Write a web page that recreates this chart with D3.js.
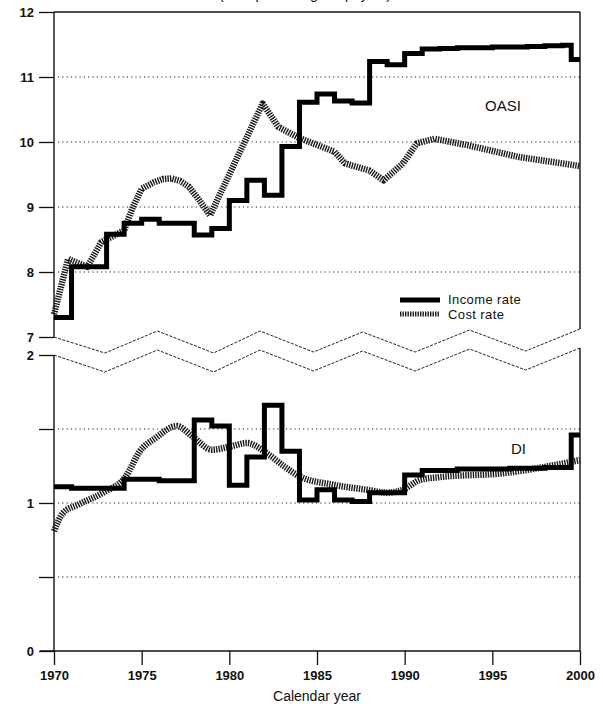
<!DOCTYPE html>
<html>
<head>
<meta charset="utf-8">
<script src="https://cdn.jsdelivr.net/npm/d3@7"></script>
<style>
  body { margin: 0; background: #fff; }
  text { font-family: "Liberation Sans", Arial, sans-serif; fill: #111; }
</style>
</head>
<body>
<div id="chart"></div>
<script>
// OASI income rate (step changes, year the rate starts)
const oasiIncome = [
  [1970, 7.30], [1971, 8.08], [1973, 8.58], [1974, 8.75], [1975, 8.81],
  [1976, 8.75], [1978, 8.57], [1979, 8.67], [1980, 9.10], [1981, 9.41],
  [1982, 9.18], [1983, 9.93], [1984, 10.61], [1985, 10.74], [1986, 10.63],
  [1987, 10.60], [1988, 11.24], [1989, 11.19], [1990, 11.36], [1991, 11.43],
  [1992, 11.44], [1993, 11.45], [1994, 11.45], [1995, 11.46], [1996, 11.46],
  [1997, 11.47], [1998, 11.48], [1999, 11.49], [1999.5, 11.27], [2000, 11.27]
];

// OASI cost rate
const oasiCost = [
  [1970, 7.35], [1970.8, 8.20], [1971.9, 8.08], [1972.7, 8.46], [1974.0, 8.64],
  [1974.5, 9.00], [1975.0, 9.28], [1975.7, 9.38], [1976.2, 9.43], [1976.7, 9.44],
  [1977.2, 9.40], [1977.7, 9.31], [1978.3, 9.10], [1978.9, 8.87], [1980.1, 9.56],
  [1981.9, 10.59], [1982.8, 10.23], [1984.0, 10.06], [1986.0, 9.85], [1986.6, 9.67],
  [1988.0, 9.56], [1988.8, 9.41], [1989.9, 9.67], [1990.7, 9.98], [1991.7, 10.05],
  [1993.6, 9.95], [1996.5, 9.77], [2000, 9.63]
];

// DI income rate
const diIncome = [
  [1970, 1.11], [1971, 1.10], [1974, 1.16], [1976, 1.15], [1978, 1.56],
  [1979, 1.52], [1980, 1.12], [1981, 1.31], [1982, 1.66], [1983, 1.35],
  [1984, 1.02], [1985, 1.09], [1986, 1.02], [1987, 1.01], [1988, 1.07],
  [1990, 1.19], [1991, 1.22], [1993, 1.23], [1996, 1.235], [1998, 1.24],
  [1999.5, 1.46], [2000, 1.46]
];

// DI cost rate
const diCost = [
  [1970, 0.81], [1970.5, 0.93], [1971.4, 0.99], [1972.8, 1.07], [1974.1, 1.18],
  [1974.9, 1.35], [1975.8, 1.44], [1977.0, 1.52], [1977.9, 1.45], [1979.0, 1.36],
  [1980.0, 1.38], [1981.0, 1.405], [1982.1, 1.34], [1983.1, 1.25], [1984.0, 1.18],
  [1985.9, 1.124], [1987.8, 1.09], [1989.0, 1.07], [1989.9, 1.09], [1990.9, 1.157],
  [1992.0, 1.175], [1995.5, 1.20], [2000, 1.29]
];

const xTicks = [1970, 1975, 1980, 1985, 1990, 1995, 2000];
const topTicks = [7, 8, 9, 10, 11, 12];
const topGrid = [8, 9, 10, 11];
const bottomTicks = [0, 0.5, 1, 1.5, 2];
const bottomLabels = [0, 1, 2];
const bottomGrid = [0.5, 1, 1.5];
// where the broken-axis zigzag turns
const breakYears = [1970, 1972.9, 1975.9, 1979.1, 1981.75, 1984.8, 1987.6, 1990.6, 1993.7, 1996.9, 2000];

const width = 603, height = 707;

const svg = d3.select("#chart").append("svg")
  .attr("width", width)
  .attr("height", height);

const x = d3.scaleLinear().domain([1970, 2000]).range([54, 580]);
const yTop = d3.scaleLinear().domain([7, 12]).range([337, 12]);
const yBot = d3.scaleLinear().domain([0, 2]).range([651, 355]);

// title, mostly cut off at the top edge
svg.append("text")
  .attr("x", 305).attr("y", -1)
  .attr("text-anchor", "middle")
  .attr("font-size", 14)
  .text("(As a percentage of payroll)");

// gridlines
svg.append("g").selectAll("line").data(topGrid).join("line")
  .attr("x1", x(1970) + 4).attr("x2", x(2000))
  .attr("y1", d => yTop(d)).attr("y2", d => yTop(d))
  .attr("stroke", "#222").attr("stroke-width", 1.2)
  .attr("stroke-dasharray", "1.2,3.1");
svg.append("g").selectAll("line").data(bottomGrid).join("line")
  .attr("x1", x(1970) + 4).attr("x2", x(2000))
  .attr("y1", d => yBot(d)).attr("y2", d => yBot(d))
  .attr("stroke", "#222").attr("stroke-width", 1.2)
  .attr("stroke-dasharray", "1.2,3.1");

// y axes
const topAxis = svg.append("g")
  .attr("transform", `translate(${x(1970)},0)`)
  .call(d3.axisLeft(yTop).tickValues(topTicks).tickSize(15).tickPadding(5).tickFormat(d3.format("d")));
const botAxis = svg.append("g")
  .attr("transform", `translate(${x(1970)},0)`)
  .call(d3.axisLeft(yBot).tickValues(bottomTicks).tickSize(15).tickPadding(5)
    .tickFormat(d => bottomLabels.includes(d) ? d3.format("d")(d) : ""));
[topAxis, botAxis].forEach(g => {
  g.select(".domain").remove();
  g.selectAll("text").attr("font-size", 13).attr("font-weight", "bold")
    .attr("font-family", "Liberation Sans, Arial, sans-serif");
  g.selectAll("line").attr("stroke", "#111").attr("stroke-width", 1.3);
});

// x axis
const xAxis = svg.append("g")
  .attr("transform", `translate(0,${yBot(0)})`)
  .call(d3.axisBottom(x).tickValues(xTicks).tickSize(14).tickPadding(6).tickFormat(d3.format("d")));
xAxis.select(".domain").remove();
xAxis.selectAll("text").attr("font-size", 13).attr("font-weight", "bold")
  .attr("font-family", "Liberation Sans, Arial, sans-serif");
xAxis.selectAll("line").attr("stroke", "#111").attr("stroke-width", 1.3);

// frame lines
const zigUp = [0, 16, -6, 16, -6, 15, -5, 15, -7, 14, -8];
const upperZig = breakYears.map((yr, i) => [x(yr), yTop(7) + zigUp[i]]);
const lowerZig = breakYears.map((yr, i) => [x(yr), yBot(2) + zigUp[i] + (i === 0 ? 0 : 1)]);

const frame = svg.append("g").attr("stroke", "#111").attr("stroke-width", 1.4).attr("fill", "none");
frame.append("line").attr("x1", x(1970)).attr("x2", x(2000)).attr("y1", yTop(12)).attr("y2", yTop(12));
frame.append("line").attr("x1", x(1970)).attr("x2", x(1970)).attr("y1", yTop(12)).attr("y2", yTop(7));
frame.append("line").attr("x1", x(2000)).attr("x2", x(2000)).attr("y1", yTop(12)).attr("y2", upperZig[upperZig.length - 1][1]);
frame.append("line").attr("x1", x(1970)).attr("x2", x(1970)).attr("y1", yBot(2)).attr("y2", yBot(0));
frame.append("line").attr("x1", x(2000)).attr("x2", x(2000)).attr("y1", lowerZig[lowerZig.length - 1][1]).attr("y2", yBot(0));
frame.append("line").attr("x1", x(1970) - 14).attr("x2", x(2000)).attr("y1", yBot(0)).attr("y2", yBot(0));

const zigLine = d3.line();
[upperZig, lowerZig].forEach(pts => {
  svg.append("path")
    .attr("d", zigLine(pts))
    .attr("fill", "none")
    .attr("stroke", "#222")
    .attr("stroke-width", 1)
    .attr("stroke-dasharray", "3,1.4");
});

// series
const stepTop = d3.line().x(d => x(d[0])).y(d => yTop(d[1])).curve(d3.curveStepAfter);
const costTop = d3.line().x(d => x(d[0])).y(d => yTop(d[1])).curve(d3.curveLinear);
const stepBot = d3.line().x(d => x(d[0])).y(d => yBot(d[1])).curve(d3.curveStepAfter);
const smoothBot = d3.line().x(d => x(d[0])).y(d => yBot(d[1])).curve(d3.curveMonotoneX);

function costStyle(sel) {
  return sel.attr("fill", "none")
    .attr("stroke", "#1a1a1a")
    .attr("stroke-width", 6.5)
    .attr("stroke-linejoin", "round")
    .attr("stroke-dasharray", "1.4,1.1");
}
function incomeStyle(sel) {
  return sel.attr("fill", "none")
    .attr("stroke", "#000")
    .attr("stroke-width", 5)
    .attr("stroke-linejoin", "miter");
}

svg.append("path").attr("d", costTop(oasiCost)).call(costStyle);
svg.append("path").attr("d", stepTop(oasiIncome)).call(incomeStyle);
svg.append("path").attr("d", smoothBot(diCost)).call(costStyle);
svg.append("path").attr("d", stepBot(diIncome)).call(incomeStyle);

// labels
svg.append("text").attr("x", 485).attr("y", 111).attr("font-size", 15).text("OASI");
svg.append("text").attr("x", 511).attr("y", 454).attr("font-size", 15).text("DI");

// legend
const legend = svg.append("g");
legend.append("line").attr("x1", 400).attr("x2", 440).attr("y1", 300).attr("y2", 300).call(incomeStyle);
legend.append("line").attr("x1", 400).attr("x2", 440).attr("y1", 314).attr("y2", 314).call(costStyle).attr("stroke-width", 5);
legend.append("text").attr("x", 448).attr("y", 303.5).attr("font-size", 13).attr("letter-spacing", 0.4).text("Income rate");
legend.append("text").attr("x", 448).attr("y", 318.5).attr("font-size", 13).attr("letter-spacing", 0.4).text("Cost rate");

// x axis title
svg.append("text")
  .attr("x", (x(1970) + x(2000)) / 2).attr("y", 701)
  .attr("text-anchor", "middle")
  .attr("font-size", 14)
  .text("Calendar year");
</script>
</body>
</html>
